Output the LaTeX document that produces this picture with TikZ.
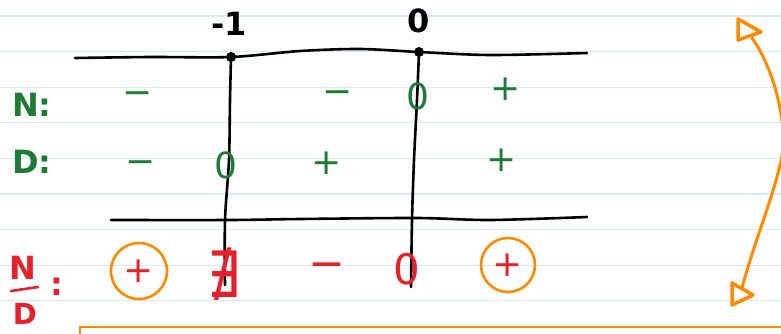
\documentclass[tikz,border=0pt]{standalone}
\usepackage{graphicx}
\usepackage{fontspec}
\setmainfont{DejaVu Sans}
\definecolor{ruleblue}{HTML}{D6EAF8}
\definecolor{gr}{HTML}{1E7B34}
\definecolor{rd}{HTML}{E8202A}
\definecolor{org}{HTML}{FF8A00}
\begin{document}
\begin{tikzpicture}[x=1pt,y=-1pt,
  rule/.style={draw=ruleblue,line width=1.3},
  ink/.style={line width=2.6,line cap=round,line join=round},
  sgn/.style={inner sep=0pt,font=\fontsize{36}{40}\selectfont},
  lbl/.style={inner sep=0pt,font=\fontsize{32}{38}\selectfont\bfseries},
  ptdot/.style={circle,fill=black,inner sep=0pt,minimum size=10pt},
  ring/.style={circle,draw=org,line width=2.6,inner sep=0pt}]
\useasboundingbox (0,0) rectangle (781,333);
% ruled paper
\foreach \yy in {16,51.6,87.2,122.8,158.4,194,229.6,265.2,300.8}
  \draw[rule] (0,\yy) -- (781,\yy);
% points on the line
\node[ptdot] (pm1) at (231,57) {};
\node[ptdot] (p0) at (419,52) {};
\node[lbl] (tm1) at (229,24) {-1};
\node[lbl] (t0) at (419,21) {0};
% top axis
\draw[ink] plot[smooth] coordinates {(75,58) (150,57) (231,57) (300,51) (360,49) (419,52) (490,55) (587,53)};
% bottom line
\draw[ink] plot[smooth] coordinates {(111,220) (230,220) (300,219) (417,218) (490,220) (587,217)};
% verticals
\coordinate (em1) at (225,285);
\coordinate (e0) at (411,287);
\draw[ink] plot[smooth] coordinates {(pm1) (230,100) (229,160) (225,220) (em1)};
\draw[ink] plot[smooth] coordinates {(p0) (417,100) (414,160) (412,220) (e0)};
% row labels
\node[lbl,text=gr] (labN) at (32,105) {N:};
\node[lbl,text=gr] (labD) at (32,162) {D:};
% N row
\node[sgn,text=gr] (n1) at (138,98) {−};
\node[sgn,text=gr] (n2) at (338,97) {−};
\node[sgn,text=gr] (n3) at (418,96) {0};
\node[sgn,text=gr] (n4) at (506,89) {+};
% D row
\node[sgn,text=gr] (d1) at (141,167) {−};
\node[sgn,text=gr] (d2) at (226,165) {0};
\node[sgn,text=gr] (d3) at (327,163) {+};
\node[sgn,text=gr] (d4) at (502,160) {+};
% N/D row
\node[lbl,text=rd] (labNN) at (23,268) {N};
\draw[rd,line width=2.6,line cap=round] (11,291) -- (38,287);
\node[lbl,text=rd,font=\fontsize{29}{34}\selectfont\bfseries] (labDD) at (25,314) {D};
\node[lbl,text=rd] (labC) at (57,287) {:};
\node[ring,minimum size=56pt] (c1) at (139,271) {};
\node[sgn,text=rd] (q1) at (139,271) {+};
\node[sgn,text=rd,font=\fontsize{40}{44}\selectfont] (q2) at (224,274) {\scalebox{1.3}[1.6]{∄}};
\node[sgn,text=rd,font=\fontsize{44}{48}\selectfont] (q3) at (327,271) {−};
\node[sgn,text=rd,font=\fontsize{42}{46}\selectfont] (q4) at (407,269) {0};
\node[ring,minimum size=54pt] (c2) at (508,265) {};
\node[sgn,text=rd] (q5) at (508,265) {+};
% orange double arrow
\coordinate (at) at (752,38);
\coordinate (am) at (780,165);
\coordinate (ab) at (742,288);
\draw[org,ink,line width=3] (at) .. controls (775,70) and (790,130) .. (am) .. controls (772,200) and (755,240) .. (ab);
\draw[org,ink,line width=3.5] (738,19) -- (738,40) -- (761,32) -- cycle;
\draw[org,ink,line width=3.5] (732,283) -- (732,305) -- (753,295) -- cycle;
% orange box corner
\draw[org,line width=2.6] (80,336) -- (80,327) -- (785,327);
\end{tikzpicture}
\end{document}
